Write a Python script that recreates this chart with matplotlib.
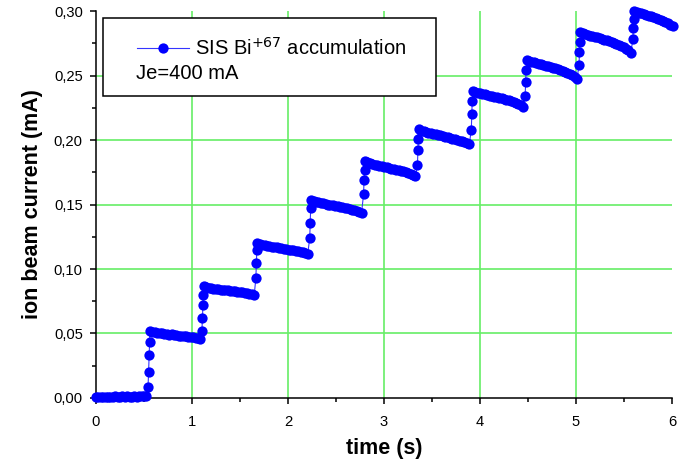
#!/usr/bin/env python3
"""SIS Bi+67 accumulation: ion beam current vs time (Je = 400 mA)."""

import matplotlib

matplotlib.use("Agg")
import matplotlib.pyplot as plt
import numpy as np
from matplotlib.patches import Rectangle
from matplotlib.ticker import FuncFormatter, MultipleLocator

plt.rcParams["font.family"] = ["Liberation Sans", "DejaVu Sans"]

# --- data (time in s, current in mA) ----------------------------------------
# injection pulses (start of each rise)
RISE_TIMES = [0.542, 1.103, 1.665, 2.226, 2.787, 3.348, 3.909, 4.470, 5.031, 5.592]

# flat baseline before the first injection, sampled every 0.025 s from t=0
BASELINE = [0.0008, 0.0006, 0.0009, 0.0007, 0.0010, 0.0008, 0.0011, 0.0009,
            0.0012, 0.0010, 0.0009, 0.0012, 0.0010, 0.0013, 0.0011, 0.0010,
            0.0013, 0.0011, 0.0012, 0.0014, 0.0012, 0.0013]

# points on the steep part of each step
RISES = [
    [0.0088, 0.0200, 0.0330, 0.0436],
    [0.0520, 0.0620, 0.0720, 0.0800],
    [0.0930, 0.1050, 0.1145],
    [0.1240, 0.1360, 0.1470],
    [0.1580, 0.1690, 0.1770],
    [0.1810, 0.1920, 0.2010],
    [0.2077, 0.2200, 0.2304],
    [0.2340, 0.2450, 0.2545],
    [0.2580, 0.2680, 0.2760],
    [0.2780, 0.2870, 0.2940],
]

# slowly decaying plateau after each step, sampled every 0.025 s
PLATEAUS = [
    [0.0518, 0.0512, 0.0508, 0.0505, 0.0501, 0.0500, 0.0497, 0.0494, 0.0492, 0.0493, 0.0489,
     0.0486, 0.0484, 0.0484, 0.0480, 0.0477, 0.0475, 0.0476, 0.0471, 0.0468, 0.0465, 0.0460],
    [0.0865, 0.0858, 0.0853, 0.0851, 0.0848, 0.0846, 0.0842, 0.0840, 0.0838, 0.0836, 0.0834,
     0.0830, 0.0829, 0.0826, 0.0824, 0.0822, 0.0819, 0.0816, 0.0813, 0.0810, 0.0806, 0.0800],
    [0.1200, 0.1193, 0.1187, 0.1183, 0.1180, 0.1178, 0.1173, 0.1170, 0.1167, 0.1165, 0.1161,
     0.1158, 0.1156, 0.1151, 0.1149, 0.1146, 0.1142, 0.1138, 0.1134, 0.1129, 0.1123, 0.1116],
    [0.1535, 0.1527, 0.1521, 0.1517, 0.1513, 0.1509, 0.1505, 0.1500, 0.1497, 0.1493, 0.1490,
     0.1486, 0.1482, 0.1478, 0.1473, 0.1470, 0.1465, 0.1460, 0.1455, 0.1449, 0.1443, 0.1436],
    [0.1835, 0.1826, 0.1820, 0.1815, 0.1810, 0.1806, 0.1801, 0.1797, 0.1792, 0.1788, 0.1784,
     0.1779, 0.1775, 0.1770, 0.1766, 0.1761, 0.1756, 0.1750, 0.1745, 0.1739, 0.1731, 0.1722],
    [0.2082, 0.2073, 0.2067, 0.2062, 0.2057, 0.2053, 0.2048, 0.2044, 0.2039, 0.2035, 0.2030,
     0.2026, 0.2021, 0.2016, 0.2011, 0.2006, 0.2000, 0.1995, 0.1989, 0.1982, 0.1975, 0.1966],
    [0.2378, 0.2370, 0.2365, 0.2361, 0.2357, 0.2353, 0.2349, 0.2345, 0.2341, 0.2337, 0.2332,
     0.2328, 0.2323, 0.2318, 0.2313, 0.2307, 0.2301, 0.2295, 0.2288, 0.2280, 0.2268, 0.2255],
    [0.2620, 0.2612, 0.2606, 0.2601, 0.2596, 0.2591, 0.2586, 0.2581, 0.2576, 0.2571, 0.2566,
     0.2561, 0.2555, 0.2549, 0.2543, 0.2537, 0.2530, 0.2523, 0.2513, 0.2502, 0.2488, 0.2472],
    [0.2835, 0.2826, 0.2820, 0.2815, 0.2810, 0.2805, 0.2800, 0.2795, 0.2790, 0.2784, 0.2778,
     0.2772, 0.2766, 0.2760, 0.2753, 0.2746, 0.2738, 0.2730, 0.2721, 0.2709, 0.2694, 0.2676],
    [0.3000, 0.2992, 0.2986, 0.2981, 0.2976, 0.2971, 0.2965, 0.2959, 0.2953, 0.2946, 0.2939,
     0.2931, 0.2923, 0.2914, 0.2904, 0.2893, 0.2880],
]

BASE_DT = 0.025      # sampling of the slow parts
RISE_DT = 0.005      # sampling of the steep parts
LABEL = "SIS Bi$^{+67}$ accumulation"
NOTE = "Je=400 mA"


def build_series():
    t_parts = [np.arange(len(BASELINE)) * BASE_DT]
    y_parts = [np.array(BASELINE)]
    for t0, rise, plateau in zip(RISE_TIMES, RISES, PLATEAUS):
        t_rise = t0 + np.arange(len(rise)) * RISE_DT
        t_plat = t_rise[-1] + RISE_DT + np.arange(len(plateau)) * BASE_DT
        t_parts += [t_rise, t_plat]
        y_parts += [np.array(rise), np.array(plateau)]
    return np.concatenate(t_parts), np.concatenate(y_parts)


def main() -> None:
    t, y = build_series()

    fig = plt.figure(figsize=(6.86, 4.63), dpi=100)
    ax = fig.add_axes([0.140, 0.1404, 0.8396, 0.8358])

    ax.plot(t, y, color="#3535ff", linewidth=0.8, marker="o", markersize=7.4,
            markerfacecolor="#0000ff", markeredgecolor="#0000ff", markeredgewidth=0,
            clip_on=False, zorder=3, label=LABEL)

    ax.set_xlim(0, 6)
    ax.set_ylim(0, 0.30)
    ax.xaxis.set_major_locator(MultipleLocator(1))
    ax.xaxis.set_minor_locator(MultipleLocator(0.5))
    ax.yaxis.set_major_locator(MultipleLocator(0.05))
    ax.yaxis.set_minor_locator(MultipleLocator(0.025))
    ax.yaxis.set_major_formatter(FuncFormatter(lambda v, _: f"{v:.2f}".replace(".", ",")))

    for side in ("top", "right"):
        ax.spines[side].set_visible(False)
    for side in ("left", "bottom"):
        ax.spines[side].set_linewidth(1.1)
    ax.tick_params(which="major", direction="out", length=4.5, width=1.1,
                   labelsize=10.6, pad=5)
    ax.tick_params(which="minor", direction="out", length=3, width=1.1)
    ax.tick_params(axis="x", which="major", pad=8)

    # green grid at interior major ticks only
    ax.grid(True, which="major", color="#66ee66", linewidth=1.2, zorder=0)
    for line, val in zip(ax.xaxis.get_gridlines(), ax.get_xticks()):
        line.set_visible(0 < val < 6)
    for line, val in zip(ax.yaxis.get_gridlines(), ax.get_yticks()):
        line.set_visible(0 < val < 0.29)
    ax.set_axisbelow(True)

    ax.set_xlabel("time (s)", fontsize=15.5, fontweight="bold", labelpad=6)
    ax.set_ylabel("ion beam current (mA)", fontsize=15.5, fontweight="bold", labelpad=8)

    # legend box with an extra note line
    ax.add_patch(Rectangle((0.0122, 0.780), 0.578, 0.202, transform=ax.transAxes,
                           facecolor="white", edgecolor="black", linewidth=1.1,
                           zorder=5, clip_on=False))
    leg = ax.legend(loc="center left", bbox_to_anchor=(0.071, 0.905), frameon=False,
                    fontsize=14.5, handlelength=2.6, handletextpad=0.3,
                    borderpad=0, borderaxespad=0)
    leg.set_zorder(6)
    ax.text(0.069, 0.838, NOTE, transform=ax.transAxes, fontsize=14.5,
            va="center", ha="left", zorder=6)

    fig.savefig("out.png", dpi=100)
    plt.close(fig)


if __name__ == "__main__":
    main()
